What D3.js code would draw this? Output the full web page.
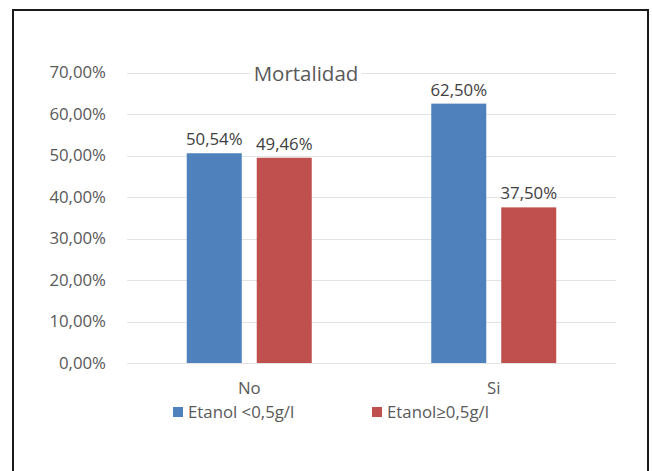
<!DOCTYPE html>
<html><head><meta charset="utf-8">
<script src="https://cdn.jsdelivr.net/npm/d3@7"></script>
<style>
html,body{margin:0;padding:0;background:#fff;}
svg{display:block;font-family:"Open Sans",sans-serif;}
</style></head>
<body>
<script>
const categories = ["No", "Si"];
const seriesNames = ["Etanol <0,5g/l", "Etanol\u22650,5g/l"];
const seriesBajo = [50.54, 62.50];
const seriesAlto = [49.46, 37.50];
const tickValues = [0, 10, 20, 30, 40, 50, 60, 70];
const colors = ["#4f81bd", "#c0504d"];
const title = "Mortalidad";

const W = 652, H = 471;
const svg = d3.select("body").append("svg").attr("width", W).attr("height", H);
svg.append("rect").attr("x", 13).attr("y", 10).attr("width", 635).attr("height", 480)
  .attr("fill", "#fff").attr("stroke", "#1a1a1a").attr("stroke-width", 2);

const fmt = v => d3.format(".2f")(v).replace(".", ",") + "%";
const x0 = d3.scaleBand().domain(categories).range([127, 616]).paddingInner(0).paddingOuter(0);
const x1 = d3.scaleBand().domain([0, 1]).range([0, 125]).paddingInner(0.214);
const y = d3.scaleLinear().domain([0, 70]).range([363, 72.5]);
const FS = "16.8px";

// gridlines
svg.append("g").selectAll("line").data(tickValues).join("line")
  .attr("x1", 127).attr("x2", 616)
  .attr("y1", d => Math.round(y(d)) + 0.5).attr("y2", d => Math.round(y(d)) + 0.5)
  .attr("stroke", "#e3e3e3").attr("stroke-width", 1);

// y axis labels
const yAxis = d3.axisLeft(y).tickValues(tickValues).tickFormat(fmt).tickSize(0).tickPadding(0);
const ya = svg.append("g").attr("transform", "translate(106,0)").call(yAxis);
ya.select(".domain").remove();
ya.selectAll("text").attr("fill", "#595959").style("font-size", FS).style("font-family", "Open Sans");

// x axis labels
const xAxis = d3.axisBottom(x0).tickSize(0).tickPadding(0);
const xa = svg.append("g").attr("transform", "translate(0,382)").call(xAxis);
xa.select(".domain").remove();
xa.selectAll("text").attr("fill", "#595959").style("font-size", FS).style("font-family", "Open Sans");

// bars
const rows = categories.map((c, i) => ({cat: c, vals: [seriesBajo[i], seriesAlto[i]]}));
const g = svg.append("g").selectAll("g").data(rows).join("g")
  .attr("transform", d => `translate(${x0(d.cat) + (x0.bandwidth() - 125) / 2},0)`);
g.selectAll("rect").data(d => d.vals.map((v, j) => ({v, j}))).join("rect")
  .attr("x", d => x1(d.j)).attr("width", x1.bandwidth())
  .attr("y", d => y(d.v)).attr("height", d => y(0) - y(d.v))
  .attr("fill", d => colors[d.j]);
g.selectAll("text").data(d => d.vals.map((v, j) => ({v, j}))).join("text")
  .attr("x", d => x1(d.j) + x1.bandwidth() / 2).attr("y", d => y(d.v) - 8)
  .attr("text-anchor", "middle").attr("fill", "#404040")
  .style("font-size", FS).text(d => fmt(d.v));

// title
const titleBg = svg.append("rect").attr("fill", "#fff");
const tt = svg.append("text").attr("x", 306).attr("y", 81).attr("text-anchor", "middle")
  .attr("fill", "#595959").style("font-size", "20.5px").text(title);
const bb = tt.node().getBBox();
titleBg.attr("x", bb.x - 3).attr("y", bb.y).attr("width", bb.width + 6).attr("height", bb.height);

// legend
const legX = [173, 372];
const lg = svg.append("g").selectAll("g").data(seriesNames).join("g")
  .attr("transform", (d, i) => `translate(${legX[i]},407)`);
lg.append("rect").attr("width", 10).attr("height", 10).attr("fill", (d, i) => colors[i]);
lg.append("text").attr("x", 15).attr("y", 10.5).attr("fill", "#595959")
  .style("font-size", FS).text(d => d);
</script>
</body></html>
